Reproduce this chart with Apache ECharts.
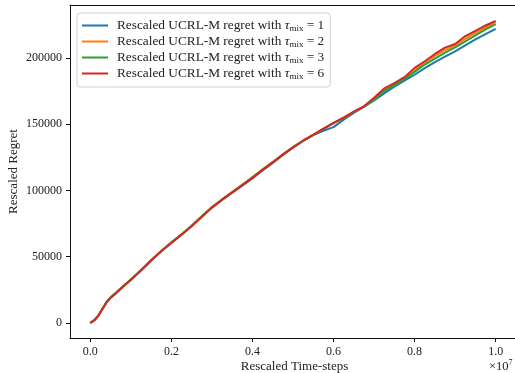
<!DOCTYPE html>
<html>
<head>
<meta charset="utf-8">
<script src="https://cdn.jsdelivr.net/npm/echarts@6/dist/echarts.min.js"></script>
<style>
html,body{margin:0;padding:0;background:#fff;overflow:hidden;}
#chart{width:515px;height:373px;}
</style>
</head>
<body>
<div id="chart"></div>
<script>
// Time steps (x axis values)
const timeSteps = [0, 1e5, 2e5, 3e5, 4e5, 5e5, 6e5, 8e5, 1e6,
  1.25e6, 1.5e6, 1.75e6, 2e6, 2.25e6, 2.5e6, 2.75e6, 3e6, 3.25e6, 3.5e6, 3.75e6, 4e6,
  4.25e6, 4.5e6, 4.75e6, 5e6, 5.25e6, 5.5e6, 5.75e6, 6e6, 6.25e6, 6.5e6, 6.75e6, 7e6,
  7.25e6, 7.5e6, 7.75e6, 8e6, 8.25e6, 8.5e6, 8.75e6, 9e6, 9.25e6, 9.5e6, 9.75e6, 1e7];

const regretTau1 = [0, 2000, 5400, 10300, 15300, 18900, 21400, 27000, 32400,
  39600, 47100, 54000, 60400, 66600, 73200, 80300, 87000, 92800, 98200, 103500, 109000,
  115000, 120800, 126800, 132300, 137300, 141800, 145000, 147800, 153400, 158500, 163000, 168000,
  173300, 178300, 182800, 187300, 192300, 196800, 201000, 205000, 209500, 214000, 218000, 222000];

const regretTau2 = [0, 2100, 5600, 10600, 15600, 19100, 21600, 27200, 32700,
  39800, 47300, 54300, 60800, 66900, 73500, 80600, 87400, 93200, 98700, 104300, 110000,
  116000, 121500, 127300, 132700, 137700, 142200, 146700, 150800, 155000, 159300, 163400, 168800,
  176000, 180500, 185000, 190500, 196500, 201500, 206000, 209500, 214500, 219000, 223000, 227000];

const regretTau3 = [0, 2100, 5700, 10800, 15800, 19300, 21900, 27400, 32800,
  39900, 47300, 54200, 60700, 66800, 73400, 80400, 87200, 93000, 98500, 104200, 109800,
  115800, 121300, 127000, 132500, 137500, 142000, 146400, 150700, 154800, 159000, 163200, 168600,
  175000, 179500, 184000, 189500, 195000, 199500, 204000, 208000, 212500, 217000, 221500, 225500];

const regretTau6 = [0, 2000, 5500, 10500, 15500, 19000, 21500, 27000, 32500,
  39500, 47000, 54000, 60500, 66500, 73000, 80000, 87000, 93000, 98500, 104000, 109500,
  115500, 121000, 127000, 132500, 137500, 142000, 146500, 151000, 155000, 159500, 163500, 170000,
  177000, 181000, 185500, 192500, 197500, 203000, 207800, 210500, 216500, 220500, 224500, 228000];

const tauValues = ['1', '2', '3', '6'];
const seriesValues = [regretTau1, regretTau2, regretTau3, regretTau6];
const colors = ['#1f77b4', '#ff7f0e', '#2ca02c', '#d62728'];
const yTicks = [0, 50000, 100000, 150000, 200000];
const xTicks = [0, 2e6, 4e6, 6e6, 8e6, 1e7];

const FONT = 'Liberation Serif';
const chart = echarts.init(document.getElementById('chart'), null, {renderer: 'canvas'});

const names = tauValues.map(t => 'tau' + t);
const series = seriesValues.map((vals, i) => ({
  name: names[i],
  type: 'line',
  xAxisIndex: 0,
  showSymbol: false,
  symbol: 'none',
  lineStyle: {width: 2, color: colors[i]},
  itemStyle: {color: colors[i]},
  data: timeSteps.map((x, j) => [x, vals[j]]),
  animation: false,
  z: 2 + i
}));

const XMIN = -5.007e5, XMAX = 1.0575e7;

chart.setOption({
  animation: false,
  textStyle: {fontFamily: FONT},
  grid: {left: 70, right: -4, top: 5, bottom: 35, outerBoundsMode: 'none', containLabel: false, show: false},
  legend: {
    left: 77, top: 13, orient: 'vertical',
    itemWidth: 26, itemHeight: 2, itemGap: 1,
    icon: 'rect',
    padding: [5, 6, 6, 5],
    borderColor: '#d0d0d0', borderWidth: 1, borderRadius: 3,
    backgroundColor: 'rgba(255,255,255,0.8)',
    data: names,
    formatter: function (n) {
      const t = n.replace('tau', '');
      return '{n|Rescaled UCRL-M regret with }{t|τ}{s|mix}{n| = ' + t + '}';
    },
    textStyle: {
      fontFamily: FONT, fontSize: 13, color: '#222', padding: [0, 0, 0, 4],
      rich: {
        n: {fontFamily: FONT, fontSize: 13.3, color: '#222', lineHeight: 14},
        t: {fontFamily: FONT, fontSize: 13.3, fontStyle: 'italic', color: '#222', lineHeight: 14},
        s: {fontFamily: FONT, fontSize: 9, color: '#222', padding: [6, 0, 0, 0], lineHeight: 14}
      }
    }
  },
  xAxis: [{
    type: 'value', min: XMIN, max: XMAX, position: 'bottom',
    splitLine: {show: false},
    axisLine: {show: true, onZero: false, lineStyle: {color: '#111', width: 1}},
    axisTick: {show: true, length: 4, lineStyle: {color: '#111'}, customValues: xTicks},
    axisLabel: {
      customValues: xTicks, margin: 8, color: '#222', fontFamily: FONT, fontSize: 12,
      formatter: v => (v / 1e7).toFixed(1)
    },
    name: 'Rescaled Time-steps', nameLocation: 'middle', nameGap: 22, nameMoveOverlap: false,
    nameTextStyle: {fontFamily: FONT, fontSize: 13, color: '#222'}
  }, {
    type: 'value', min: XMIN, max: XMAX, position: 'top',
    splitLine: {show: false},
    axisLine: {show: true, onZero: false, lineStyle: {color: '#111', width: 1}},
    axisTick: {show: false},
    axisLabel: {show: false}
  }],
  yAxis: {
    type: 'value', min: -11420, max: 239960,
    splitLine: {show: false},
    axisLine: {show: true, onZero: false, lineStyle: {color: '#111', width: 1}},
    axisTick: {show: true, length: 4, lineStyle: {color: '#111'}, customValues: yTicks},
    axisLabel: {
      customValues: yTicks, margin: 8, color: '#222', fontFamily: FONT, fontSize: 12,
      formatter: v => String(v)
    },
    name: 'Rescaled Regret', nameLocation: 'middle', nameGap: 50, nameMoveOverlap: false,
    nameTextStyle: {fontFamily: FONT, fontSize: 13, color: '#222'}
  },
  graphic: [{
    type: 'text', left: 489, top: 359,
    style: {
      text: '{a|×10}{b|7}',
      rich: {
        a: {fontFamily: FONT, fontSize: 12.5, fill: '#222', lineHeight: 14},
        b: {fontFamily: FONT, fontSize: 8, fill: '#222', padding: [0, 0, 7, 0], lineHeight: 14}
      }
    }
  }],
  series: series
});
</script>
</body>
</html>
